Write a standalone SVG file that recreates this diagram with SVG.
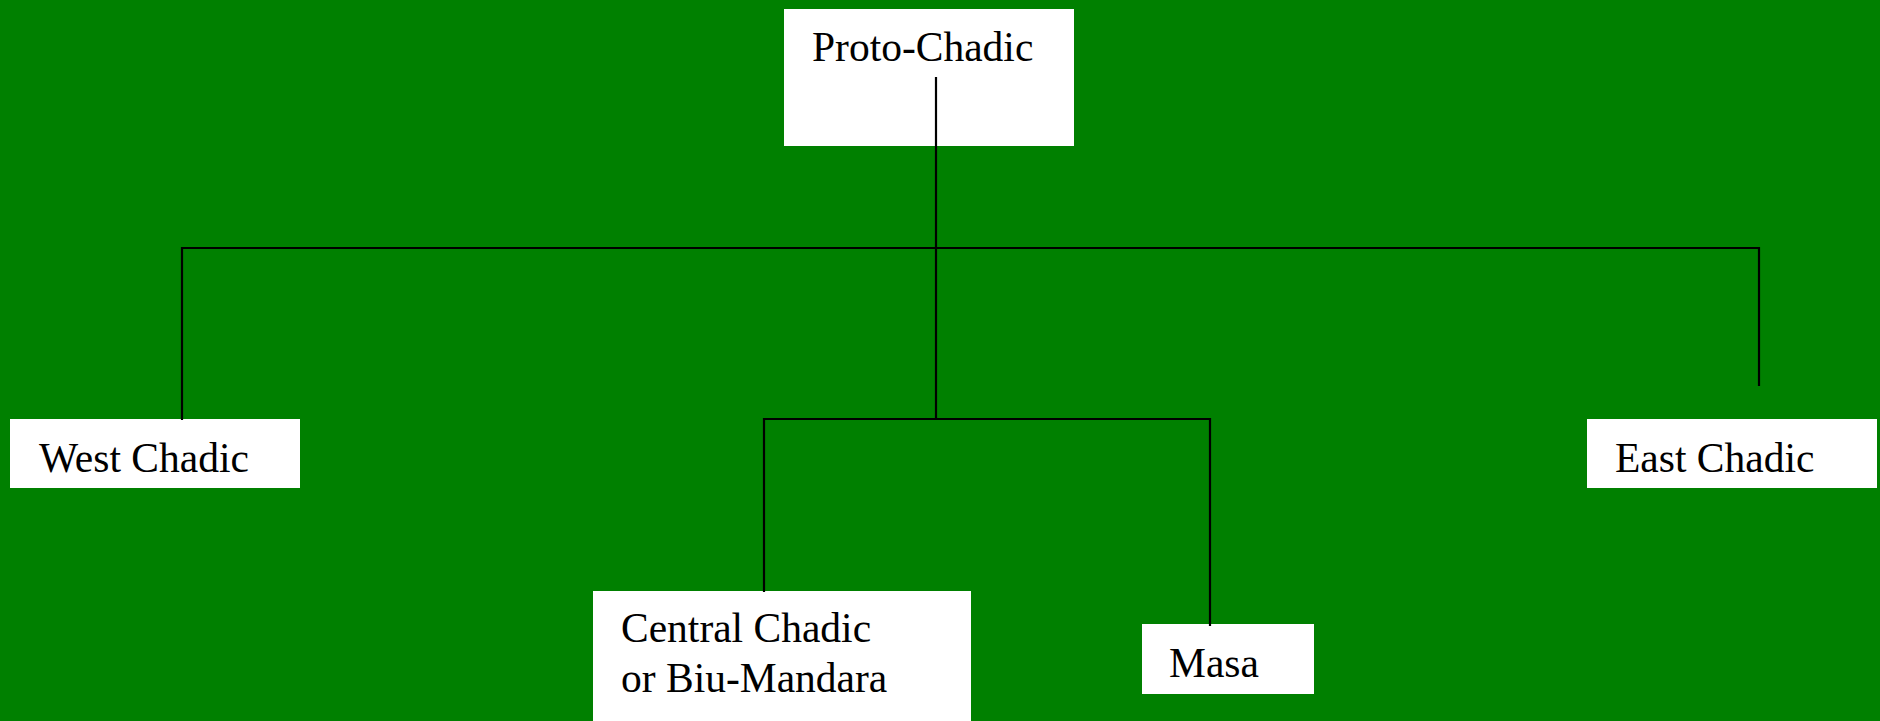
<svg xmlns="http://www.w3.org/2000/svg" width="1880" height="721" viewBox="0 0 1880 721">
<style>
.box{fill:#ffffff;stroke:none}
.lbl{font-family:"Liberation Serif","Times New Roman",serif;font-size:41.5px;fill:#000000}
.con{fill:none;stroke:#000000;stroke-width:2.2}
</style>
<rect x="0" y="0" width="1880" height="721" fill="#008000"/>
<g id="proto-chadic">
<rect class="box" x="784" y="9" width="290" height="137"/>
<text class="lbl" x="812" y="61">Proto-Chadic</text>
</g>
<g id="west-chadic">
<rect class="box" x="10" y="419" width="290" height="69"/>
<text class="lbl" x="39" y="472">West Chadic</text>
</g>
<g id="central-chadic">
<rect class="box" x="593" y="591" width="378" height="130"/>
<text class="lbl" x="621" y="642">Central Chadic</text>
<text class="lbl" x="621" y="692">or Biu-Mandara</text>
</g>
<g id="masa">
<rect class="box" x="1142" y="624" width="172" height="70"/>
<text class="lbl" x="1169" y="677">Masa</text>
</g>
<g id="east-chadic">
<rect class="box" x="1587" y="419" width="290" height="69"/>
<text class="lbl" x="1615" y="472">East Chadic</text>
</g>
<g id="connectors">
<path class="con" d="M936,77 V419"/>
<path class="con" d="M182,420 V248 H1759 V386"/>
<path class="con" d="M764,592 V419 H1210 V626"/>
</g>
</svg>
